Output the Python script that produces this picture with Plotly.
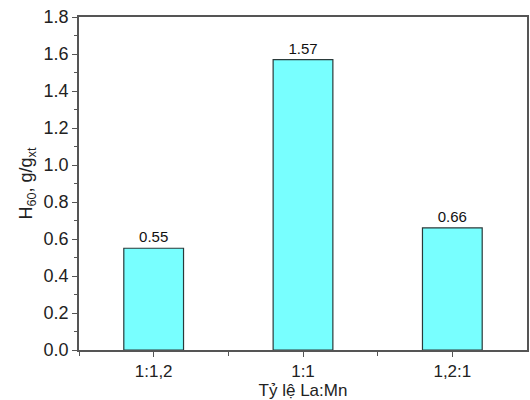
import plotly.graph_objects as go

categories = ["1:1,2", "1:1", "1,2:1"]
values = [0.55, 1.57, 0.66]
value_labels = ["0.55", "1.57", "0.66"]
y_ticks = [0.0, 0.2, 0.4, 0.6, 0.8, 1.0, 1.2, 1.4, 1.6, 1.8]

x_pos = list(range(len(categories)))

FONT = "Liberation Sans, Arial"

fig = go.Figure()
fig.add_trace(go.Bar(
    x=x_pos, y=values, width=0.4,
    marker=dict(color="#78FFFF", line=dict(color="#2a3a3a", width=1.2)),
    text=value_labels, textposition="outside", cliponaxis=False,
    textfont=dict(family=FONT, size=15, color="#111"),
))

fig.update_layout(
    width=530, height=400,
    margin=dict(l=79, r=1, t=17, b=50),
    paper_bgcolor="white", plot_bgcolor="white",
    showlegend=False,
    font=dict(family=FONT, size=17, color="#222"),
    xaxis=dict(
        range=[-0.5, 2.5], tickmode="array", tickvals=x_pos, ticktext=categories,
        showline=True, linecolor="#555", linewidth=1.5, mirror=True,
        ticks="outside", ticklen=5, tickcolor="#555", tickwidth=1.2,
        minor=dict(tickmode="array", tickvals=[-0.5, 0.5, 1.5], ticks="outside",
                   ticklen=4, tickcolor="#555", tickwidth=1.2),
        showgrid=False, zeroline=False,
        tickfont=dict(family=FONT, size=17, color="#222"),
        title=dict(text="Tỷ lệ La:Mn", font=dict(family=FONT, size=17, color="#222"),
                   standoff=2),
    ),
    yaxis=dict(
        range=[0, 1.8], tickmode="array", tickvals=y_ticks,
        ticktext=[f"{v:.1f}" for v in y_ticks],
        showline=True, linecolor="#555", linewidth=1.5, mirror=True,
        ticks="outside", ticklen=5, tickcolor="#555", tickwidth=1.2,
        minor=dict(dtick=0.1, tick0=0, ticks="outside", ticklen=3,
                   tickcolor="#555", tickwidth=1.2, showgrid=False),
        showgrid=False, zeroline=False,
        tickfont=dict(family=FONT, size=18, color="#222"),
        title=dict(text="H<sub>60</sub>, g/g<sub>xt</sub>",
                   font=dict(family=FONT, size=18, color="#222"),
                   standoff=6),
    ),
)

fig.write_html("out.html")
